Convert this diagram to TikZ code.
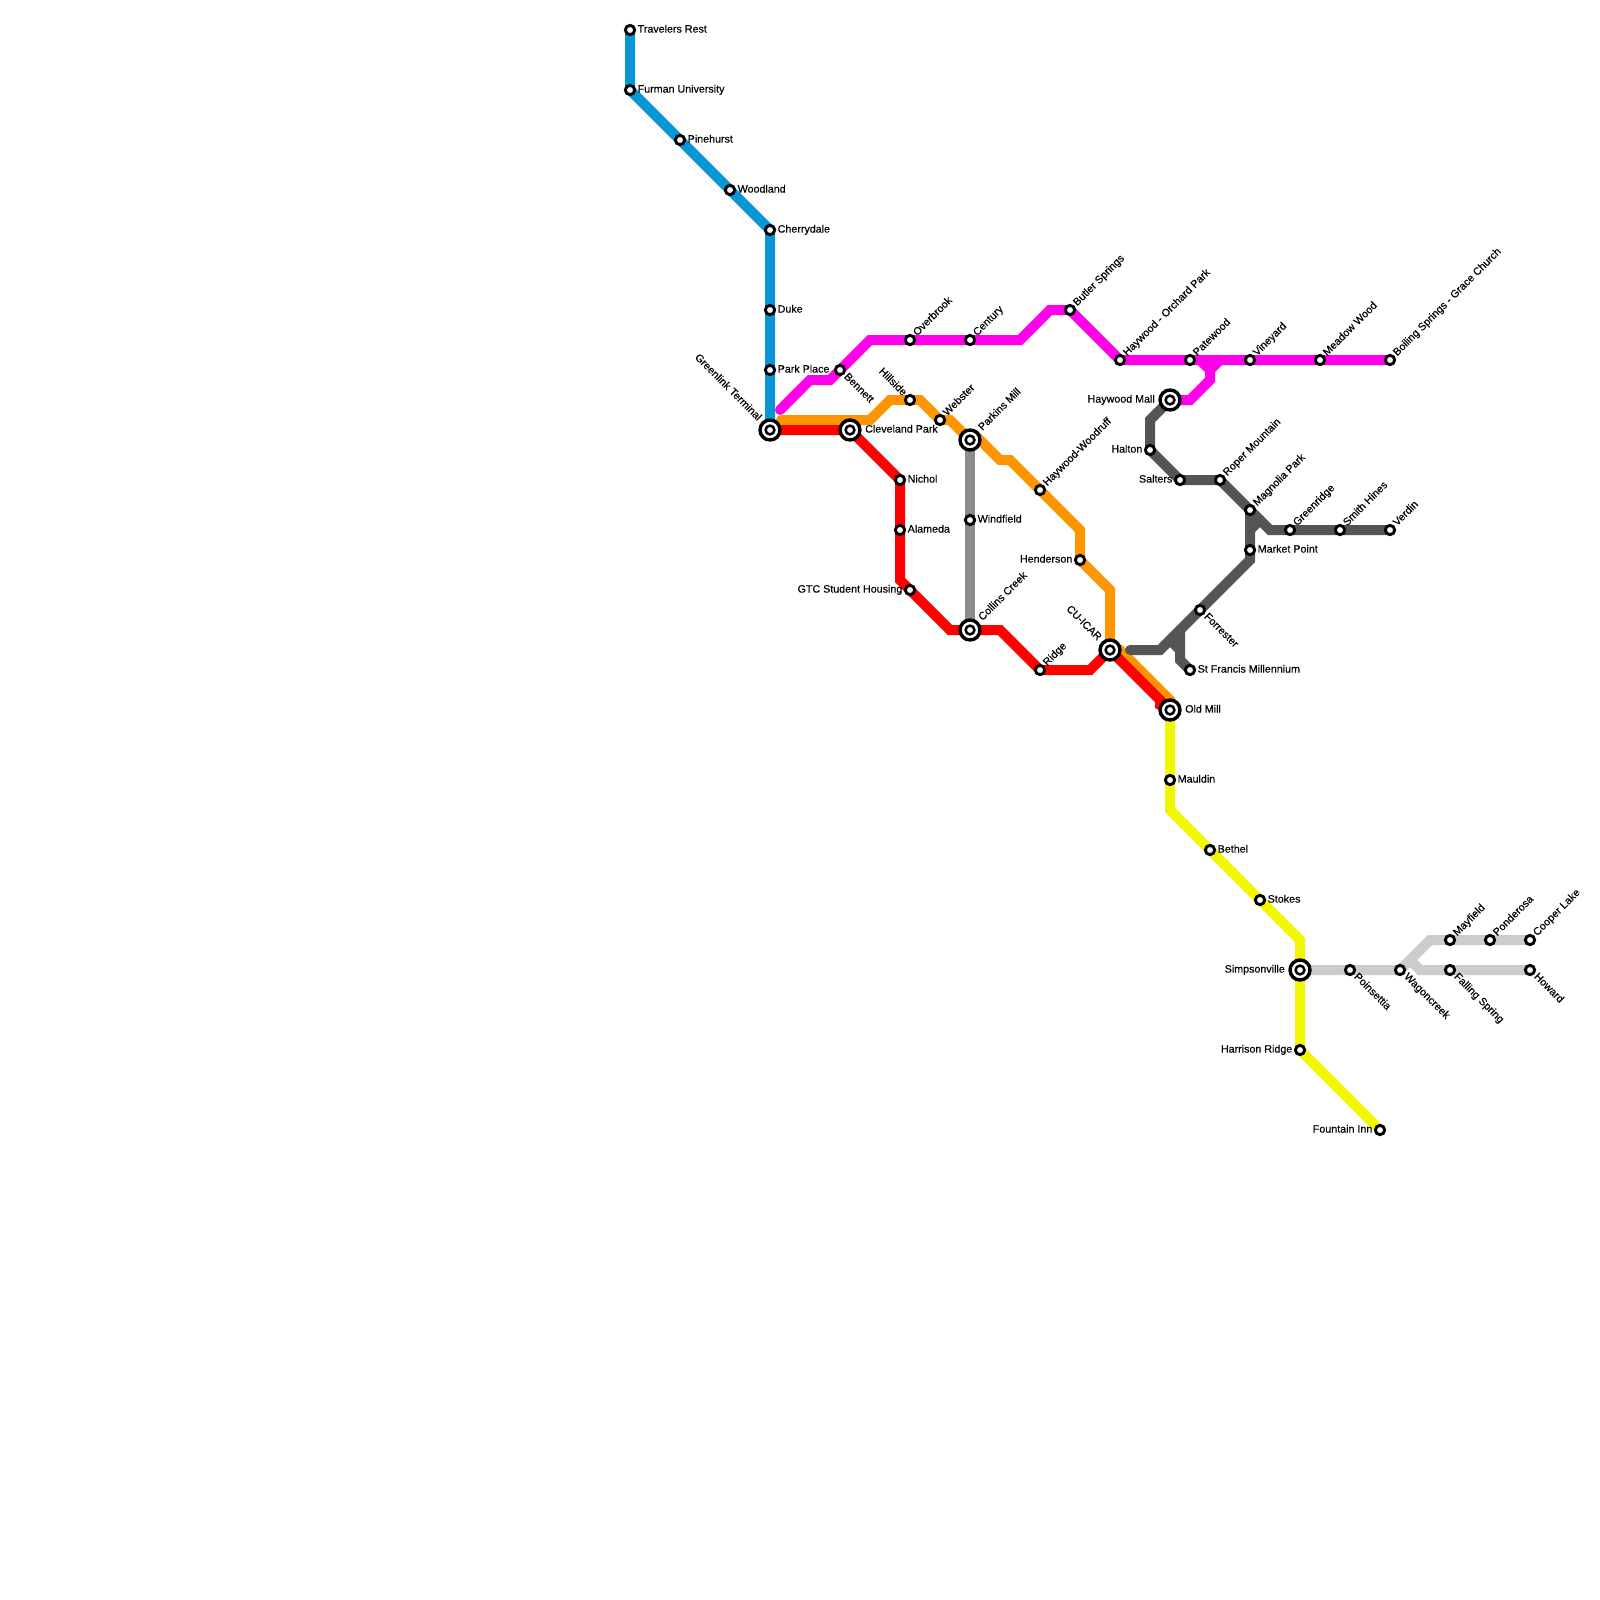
\documentclass[tikz,border=0pt]{standalone}
\usepackage{fontspec}
\setmainfont{Liberation Sans}[BoldFont={Liberation Sans}, BoldFeatures={FakeBold=0.3}]
\usepackage{tikz}
\usetikzlibrary{backgrounds}
\definecolor{lineblue}{HTML}{0896D7}
\definecolor{linepink}{HTML}{FF00EA}
\definecolor{lineorange}{HTML}{FF9500}
\definecolor{linered}{HTML}{FF0000}
\definecolor{lineyellow}{HTML}{F0F700}
\definecolor{linedark}{HTML}{555555}
\definecolor{linegray}{HTML}{8C8C8C}
\definecolor{linelight}{HTML}{CCCCCC}
\tikzset{
	stop/.style={circle, draw=black, fill=white, line width=2.9pt, minimum size=9.3pt, inner sep=0pt},
	hub/.style={circle, draw=black, fill=white, line width=3.4pt, minimum size=20pt, inner sep=0pt,
		path picture={\draw[line width=2.5pt] (path picture bounding box.center) circle (4.4pt);}},
	metro/.style={line width=10pt, line cap=round, line join=miter},
	tag/.style={font=\fontsize{10.7pt}{12pt}\selectfont\bfseries, inner sep=0pt},
	tagE/.style={tag, anchor=base west, shift={(#1,2.6)}},
	tagE/.default=7.5,
	tagW/.style={tag, anchor=base east, shift={(-#1,2.6)}},
	tagW/.default=7.5,
	tagNE/.style={tag, rotate=45, anchor=base west, shift={(#1,2.6)}},
	tagNE/.default=7.5,
	tagSE/.style={tag, rotate=-45, anchor=base west, shift={(#1,2.6)}},
	tagSE/.default=7.5,
	tagNW/.style={tag, rotate=-45, anchor=base east, shift={(-#1,2.6)}},
	tagNW/.default=7.5,
}

\begin{document}
\begin{tikzpicture}[x=1pt, y=-1pt]
	\useasboundingbox (0,0) rectangle (1600,1600);
	% blue
	\node[stop] (travelers) at (630,30) {};
	\node[stop] (furman) at (630,90) {};
	\node[stop] (pinehurst) at (680,140) {};
	\node[stop] (woodland) at (730,190) {};
	\node[stop] (cherrydale) at (770,230) {};
	\node[stop] (duke) at (770,310) {};
	\node[stop] (parkplace) at (770,370) {};
	\node[hub] (greenlink) at (770,430) {};
	% pink
	\node[stop] (bennett) at (840,370) {};
	\node[stop] (overbrook) at (910,340) {};
	\node[stop] (century) at (970,340) {};
	\node[stop] (butler) at (1070,310) {};
	\node[stop] (orchard) at (1120,360) {};
	\node[stop] (patewood) at (1190,360) {};
	\node[stop] (vineyard) at (1250,360) {};
	\node[stop] (meadow) at (1320,360) {};
	\node[stop] (boiling) at (1390,360) {};
	\node[hub] (mall) at (1170,400) {};
	% orange
	\node[stop] (hillside) at (910,400) {};
	\node[stop] (webster) at (940,420) {};
	\node[hub] (parkins) at (970,440) {};
	\node[stop] (woodruff) at (1040,490) {};
	\node[stop] (henderson) at (1080,560) {};
	\node[hub] (cuicar) at (1110,650) {};
	\node[hub] (oldmill) at (1170,710) {};
	% red
	\node[hub] (cleveland) at (850,430) {};
	\node[stop] (nichol) at (900,480) {};
	\node[stop] (alameda) at (900,530) {};
	\node[stop] (gtc) at (910,590) {};
	\node[hub] (collins) at (970,630) {};
	\node[stop] (ridge) at (1040,670) {};
	% gray
	\node[stop] (windfield) at (970,520) {};
	% dark
	\node[stop] (halton) at (1150,450) {};
	\node[stop] (salters) at (1180,480) {};
	\node[stop] (roper) at (1220,480) {};
	\node[stop] (magnolia) at (1250,510) {};
	\node[stop] (greenridge) at (1290,530) {};
	\node[stop] (smith) at (1340,530) {};
	\node[stop] (verdin) at (1390,530) {};
	\node[stop] (market) at (1250,550) {};
	\node[stop] (forrester) at (1200,610) {};
	\node[stop] (francis) at (1190,670) {};
	\coordinate (darkend) at (1130,650);
	% yellow
	\node[stop] (mauldin) at (1170,780) {};
	\node[stop] (bethel) at (1210,850) {};
	\node[stop] (stokes) at (1260,900) {};
	\node[hub] (simpson) at (1300,970) {};
	\node[stop] (harrison) at (1300,1050) {};
	\node[stop] (fountain) at (1380,1130) {};
	% light
	\node[stop] (poinsettia) at (1350,970) {};
	\node[stop] (wagon) at (1400,970) {};
	\node[stop] (falling) at (1450,970) {};
	\node[stop] (howard) at (1530,970) {};
	\node[stop] (mayfield) at (1450,940) {};
	\node[stop] (ponderosa) at (1490,940) {};
	\node[stop] (cooper) at (1530,940) {};
	\coordinate (pinkend) at (780,410);
	\coordinate (orangeend) at (781,420);

	\begin{scope}[on background layer]
		\draw[metro, lineblue] (travelers.center) -- (furman.center) -- (cherrydale.center) -- (greenlink.center);
		\draw[metro, linelight] (simpson.center) -- (wagon.center) -- (1430,940) -- (cooper.center);
		\draw[metro, linelight] (1410,960) -- (1420,970) -- (howard.center);
		\draw[metro, linepink] (pinkend) -- (810,380) -- (830,380) -- (870,340) -- (1020,340) -- (1050,310) -- (butler.center) -- (orchard.center) -- (boiling.center);
		\draw[metro, linepink] (1200,360) -- (1210,370) -- (1210,380) -- (1190,400) -- (mall.center);
		\draw[metro, linepink] (1220,360) -- (1210,370);
		\draw[metro, lineorange] (orangeend) -- (870,420) -- (890,400) -- (920,400) -- (940,420) -- (950,420) -- (965,435) -- (975,435) -- (1000,460) -- (1010,460) -- (1080,530) -- (henderson.center) -- (1110,590) -- (cuicar.center) -- (1120,650) -- (1170,700) -- (oldmill.center);
		\draw[metro, linered] (greenlink.center) -- (cleveland.center) -- (nichol.center) -- (900,580) -- (950,630) -- (1000,630) -- (ridge.center) -- (1090,670) -- (cuicar.center) -- (1160,700) -- (1160,705) -- (oldmill.center);
		\draw[metro, linegray] (parkins.center) -- (collins.center);
		\draw[metro, linedark] (mall.center) -- (1150,420) -- (halton.center) -- (salters.center) -- (roper.center) -- (1270,530) -- (verdin.center);
		\draw[metro, linedark] (1250,530) -- (1260,520);
		\draw[metro, linedark] (darkend) -- (1160,650) -- (1250,560) -- (magnolia.center);
		\draw[metro, linedark] (1180,630) -- (1180,660) -- (francis.center);
		\draw[metro, linedark] (1170,640) -- (1180,650);
		\draw[metro, lineyellow] (oldmill.center) -- (1170,810) -- (1300,940) -- (harrison.center) -- (fountain.center);
	\end{scope}

	\node[tagE] (travelersT) at (travelers) {Travelers Rest};
	\node[tagE] (furmanT) at (furman) {Furman University};
	\node[tagE] (pinehurstT) at (pinehurst) {Pinehurst};
	\node[tagE] (woodlandT) at (woodland) {Woodland};
	\node[tagE] (cherrydaleT) at (cherrydale) {Cherrydale};
	\node[tagE] (dukeT) at (duke) {Duke};
	\node[tagE] (parkplaceT) at (parkplace) {Park Place};
	\node[tagNW=15] (greenlinkT) at (greenlink) {Greenlink Terminal};
	\node[tagSE] (bennettT) at (bennett) {Bennett};
	\node[tagNE] (overbrookT) at (overbrook) {Overbrook};
	\node[tagNE] (centuryT) at (century) {Century};
	\node[tagNE] (butlerT) at (butler) {Butler Springs};
	\node[tagNE] (orchardT) at (orchard) {Haywood - Orchard Park};
	\node[tagNE] (patewoodT) at (patewood) {Patewood};
	\node[tagNE] (vineyardT) at (vineyard) {Vineyard};
	\node[tagNE] (meadowT) at (meadow) {Meadow Wood};
	\node[tagNE] (boilingT) at (boiling) {Boiling Springs - Grace Church};
	\node[tagW=15] (mallT) at (mall) {Haywood Mall};
	\node[tagNW] (hillsideT) at (hillside) {Hillside};
	\node[tagNE] (websterT) at (webster) {Webster};
	\node[tagNE=15] (parkinsT) at (parkins) {Parkins Mill};
	\node[tagNE] (woodruffT) at (woodruff) {Haywood-Woodruff};
	\node[tagW] (hendersonT) at (henderson) {Henderson};
	\node[tagNW=15] (cuicarT) at (cuicar) {CU-ICAR};
	\node[tagE=15] (oldmillT) at (oldmill) {Old Mill};
	\node[tagE=15] (clevelandT) at (cleveland) {Cleveland Park};
	\node[tagE] (nicholT) at (nichol) {Nichol};
	\node[tagE] (alamedaT) at (alameda) {Alameda};
	\node[tagW] (gtcT) at (gtc) {GTC Student Housing};
	\node[tagNE=15] (collinsT) at (collins) {Collins Creek};
	\node[tagNE] (ridgeT) at (ridge) {Ridge};
	\node[tagE] (windfieldT) at (windfield) {Windfield};
	\node[tagW] (haltonT) at (halton) {Halton};
	\node[tagW] (saltersT) at (salters) {Salters};
	\node[tagNE] (roperT) at (roper) {Roper Mountain};
	\node[tagNE] (magnoliaT) at (magnolia) {Magnolia Park};
	\node[tagNE] (greenridgeT) at (greenridge) {Greenridge};
	\node[tagNE] (smithT) at (smith) {Smith Hines};
	\node[tagNE] (verdinT) at (verdin) {Verdin};
	\node[tagE] (marketT) at (market) {Market Point};
	\node[tagSE] (forresterT) at (forrester) {Forrester};
	\node[tagE] (francisT) at (francis) {St Francis Millennium};
	\node[tagE] (mauldinT) at (mauldin) {Mauldin};
	\node[tagE] (bethelT) at (bethel) {Bethel};
	\node[tagE] (stokesT) at (stokes) {Stokes};
	\node[tagW=15] (simpsonT) at (simpson) {Simpsonville};
	\node[tagW] (harrisonT) at (harrison) {Harrison Ridge};
	\node[tagW] (fountainT) at (fountain) {Fountain Inn};
	\node[tagSE] (poinsettiaT) at (poinsettia) {Poinsettia};
	\node[tagSE] (wagonT) at (wagon) {Wagoncreek};
	\node[tagSE] (fallingT) at (falling) {Falling Spring};
	\node[tagSE] (howardT) at (howard) {Howard};
	\node[tagNE] (mayfieldT) at (mayfield) {Mayfield};
	\node[tagNE] (ponderosaT) at (ponderosa) {Ponderosa};
	\node[tagNE] (cooperT) at (cooper) {Cooper Lake};
\end{tikzpicture}
\end{document}
